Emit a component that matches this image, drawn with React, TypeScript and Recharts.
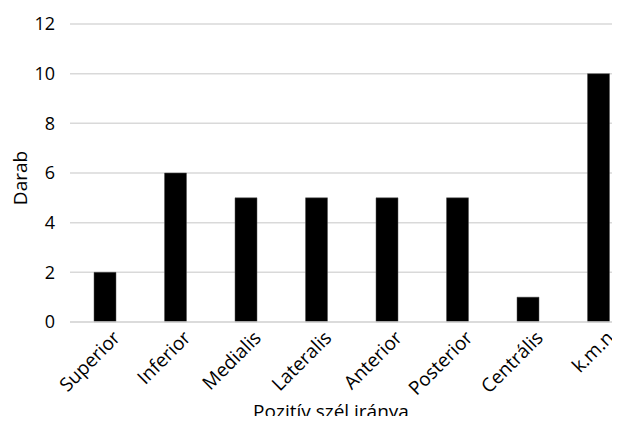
import { BarChart, Bar, XAxis, YAxis, CartesianGrid, Label } from 'recharts';

const categories = ['Superior', 'Inferior', 'Medialis', 'Lateralis', 'Anterior', 'Posterior', 'Centrális', 'k.m.n'];
const counts = [2, 6, 5, 5, 5, 5, 1, 10];
const yTicks = [0, 2, 4, 6, 8, 10, 12];

const data = categories.map((name, i) => ({ name, value: counts[i] }));

const FONT = '"Open Sans", sans-serif';

function AngledTick(props: any) {
  const { x, y, payload } = props;
  if (x === undefined || y === undefined) return null;
  const tx = x + 16;
  const ty = y + 9;
  return (
    <text
      x={tx}
      y={ty}
      textAnchor="end"
      transform={`rotate(-45, ${tx}, ${ty})`}
      style={{ fontSize: 19, fontFamily: FONT, fill: '#000' }}
    >
      {payload.value}
    </text>
  );
}

export default function App() {
  return (
    <div style={{ margin: -8, width: 620, height: 424, overflow: 'hidden', background: '#fff' }}>
      <BarChart
        width={640}
        height={424}
        data={data}
        margin={{ top: 24, right: 6, bottom: 0, left: 0 }}
        barSize={22}
      >
        <CartesianGrid vertical={false} stroke="#d9d9d9" strokeWidth={1.5} />
        <XAxis
          dataKey="name"
          interval={0}
          height={102}
          tickLine={false}
          axisLine={{ stroke: '#d9d9d9', strokeWidth: 1.5 }}
          tick={<AngledTick />}
        >
          <Label
            content={() => (
              <text x={331} y={418} textAnchor="middle" style={{ fontSize: 19, fontFamily: FONT, fill: '#000' }}>
                Pozitív szél iránya
              </text>
            )}
          />
        </XAxis>
        <YAxis
          width={70}
          domain={[0, 12]}
          ticks={yTicks}
          interval={0}
          tickLine={false}
          axisLine={false}
          tickMargin={9}
          tick={{ fontSize: 18, fontFamily: FONT, fill: '#000' }}
        >
          <Label
            content={() => (
              <text
                x={27}
                y={178}
                textAnchor="middle"
                transform="rotate(-90, 27, 178)"
                style={{ fontSize: 19, fontFamily: FONT, fill: '#000' }}
              >
                Darab
              </text>
            )}
          />
        </YAxis>
        <Bar dataKey="value" fill="#000" stroke="#555" strokeWidth={0.5} isAnimationActive={false} />
      </BarChart>
    </div>
  );
}
